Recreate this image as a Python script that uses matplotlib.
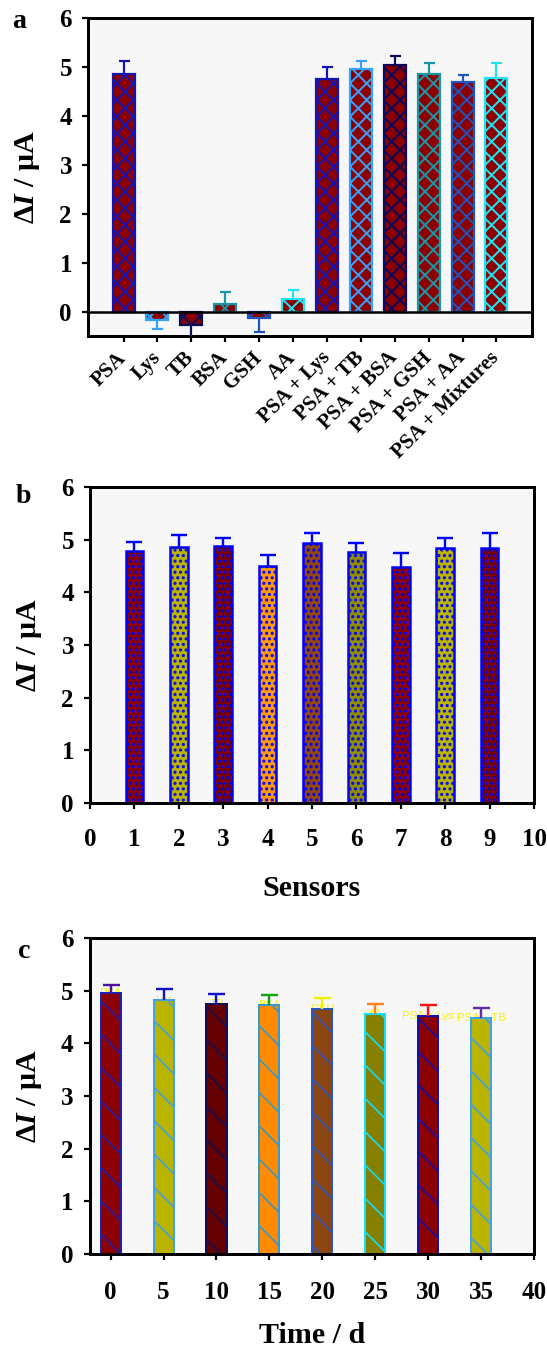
import matplotlib
matplotlib.use('Agg')
import matplotlib.pyplot as plt
import numpy as np

# ---------------- data ----------------
a_categories = ['PSA', 'Lys', 'TB', 'BSA', 'GSH', 'AA', 'PSA + Lys', 'PSA + TB',
                'PSA + BSA', 'PSA + GSH', 'PSA + AA', 'PSA + Mixtures']
a_values = [4.86, -0.18, -0.27, 0.16, -0.14, 0.26, 4.75, 4.95, 5.03, 4.86, 4.69, 4.78]
a_errors = [0.26, 0.18, 0.30, 0.24, 0.28, 0.19, 0.25, 0.17, 0.19, 0.21, 0.15, 0.31]

b_sensors = [1, 2, 3, 4, 5, 6, 7, 8, 9]
b_values = [4.78, 4.86, 4.88, 4.50, 4.93, 4.77, 4.49, 4.84, 4.84]
b_errors = [0.17, 0.23, 0.16, 0.21, 0.19, 0.16, 0.25, 0.20, 0.28]

c_days = [0, 5, 10, 15, 20, 25, 30, 35]
c_values = [4.96, 4.83, 4.75, 4.72, 4.66, 4.56, 4.51, 4.48]
c_errors = [0.15, 0.20, 0.19, 0.20, 0.21, 0.18, 0.22, 0.19]
c_labels = ['PSA', 'Lys', 'TB', 'BSA', 'GSH', 'AA', 'PSA + Lys', 'PSA + TB']

y_ticks = [0, 1, 2, 3, 4, 5, 6]
b_xticks = [0, 1, 2, 3, 4, 5, 6, 7, 8, 9, 10]
c_xticks = [0, 5, 10, 15, 20, 25, 30, 35, 40]

# ---------------- styles ----------------
a_fill = '#8b0000'
a_edges = ['#1414b4', '#36a2ff', '#0a0a5a', '#1a95a5', '#1c55c0', '#1ee4f4',
           '#1414b4', '#36a2ff', '#0a0a5a', '#1a95a5', '#1c55c0', '#1ee4f4']
b_fills = ['#8b0000', '#b8b400', '#7a0000', '#ff9a10', '#93460d', '#8f8c00',
           '#8b0000', '#b8b400', '#7a0000']
b_edge = '#0000ff'
c_fills = ['#8b0000', '#b8b400', '#640000', '#ff8c00', '#8b4513', '#868000',
           '#8b0000', '#b8b400']
c_edges = ['#2020b0', '#40a0e8', '#10105a', '#3898c8', '#2858c0', '#10e0ff',
           '#1010b0', '#40a0e8']
c_errcolors = ['#5010a0', '#1010c8', '#1010d0', '#10a010', '#f0f000', '#ff8020',
               '#ff1010', '#6030a0']

DPI = 200
W, H = 547, 1352


def px(v):
    return v * 72.0 / DPI


plt.rcParams['font.family'] = ['Liberation Serif', 'DejaVu Serif']
plt.rcParams['font.weight'] = 'bold'
plt.rcParams['axes.labelweight'] = 'bold'
plt.rcParams['mathtext.fontset'] = 'custom'
plt.rcParams['mathtext.rm'] = 'Liberation Serif:bold'
plt.rcParams['mathtext.bf'] = 'Liberation Serif:bold'
plt.rcParams['mathtext.it'] = 'Liberation Serif:italic:bold'
plt.rcParams['hatch.linewidth'] = px(2.0)

fig = plt.figure(figsize=(W / DPI, H / DPI), dpi=DPI)
fig.patch.set_facecolor('white')


def axes_box(l, t, r, b):
    return fig.add_axes([l / W, 1 - b / H, (r - l) / W, (b - t) / H])


def style(ax, xpad):
    ax.set_facecolor('#f7f7f7')
    for s in ax.spines.values():
        s.set_linewidth(px(3))
    ax.tick_params(axis='both', direction='out', length=px(6), width=px(2.2),
                   labelsize=px(25), top=False, right=False)
    ax.tick_params(axis='y', pad=px(10))
    ax.tick_params(axis='x', pad=xpad)
    ax.set_yticks(y_ticks)


def set_hlw(bars, w):
    for p in bars:
        if hasattr(p, 'set_hatch_linewidth'):
            p.set_hatch_linewidth(w)


def draw_err(ax, x, v, e, color, capsize, lw):
    if v >= 0:
        yerr = [[0], [e]]
    else:
        yerr = [[e], [0]]
    _, caps, _ = ax.errorbar([x], [v], yerr=yerr, fmt='none', ecolor=color,
                             elinewidth=lw, capsize=capsize, capthick=lw,
                             zorder=4)
    if len(caps) == 2:
        if v >= 0:
            caps[0].set_visible(False)
        else:
            caps[1].set_visible(False)


ylabel = 'Δ$\\mathit{I}$ / μA'

# ---------------- panel a ----------------
axA = axes_box(88, 18, 532, 336)
style(axA, px(13))
xa = np.arange(len(a_categories))
with plt.rc_context({'hatch.linewidth': px(2.0)}):
    barsA = axA.bar(xa, a_values, 0.65, color=a_fill, edgecolor=a_edges,
                    linewidth=px(2.2), hatch='xxxx', zorder=2)
set_hlw(barsA, px(2.0))
for x, v, e, c in zip(xa, a_values, a_errors, a_edges):
    draw_err(axA, x, v, e, c, px(5.5), px(2.2))
axA.axhline(0, color='black', lw=px(2.5), zorder=3)
axA.set_xlim(-1.05, 12.05)
axA.set_ylim(-0.5, 6)
axA.set_xticks(xa)
axA.set_xticklabels(a_categories, rotation=45, ha='right', va='center',
                    rotation_mode='anchor', fontsize=px(21))
axA.set_ylabel(ylabel, fontsize=px(30), labelpad=px(17))

# ---------------- panel b ----------------
axB = axes_box(90, 487, 534, 803)
style(axB, px(19))
with plt.rc_context({'hatch.linewidth': px(2.0)}):
    barsB = axB.bar(b_sensors, b_values, 0.4, color=b_fills, edgecolor=b_edge,
                    linewidth=px(2.5), hatch='.' * 6, zorder=2)
set_hlw(barsB, px(2.0))
for x, v, e in zip(b_sensors, b_values, b_errors):
    draw_err(axB, x, v, e, b_edge, px(8), px(2.4))
axB.set_xlim(0, 10)
axB.set_ylim(0, 6)
axB.set_xticks(b_xticks)
axB.set_ylabel(ylabel, fontsize=px(30), labelpad=px(17))
axB.set_xlabel('Sensors', fontsize=px(30), labelpad=px(24))

# ---------------- panel c ----------------
axC = axes_box(89.5, 938, 534, 1254)
style(axC, px(21))
with plt.rc_context({'hatch.linewidth': px(1.6)}):
    barsC = axC.bar(c_days, c_values, 1.9, color=c_fills, edgecolor=c_edges,
                    linewidth=px(2.0), hatch='\\\\', zorder=2)
set_hlw(barsC, px(1.6))
for x, v, e, c in zip(c_days, c_values, c_errors, c_errcolors):
    draw_err(axC, x, v, e, c, px(8.5), px(2.4))
for x, v, t in zip(c_days, c_values, c_labels):
    axC.text(x, v, t, ha='center', va='center', color='#f5f500',
             fontsize=px(11.3), family=['Liberation Sans', 'DejaVu Sans'],
             fontweight='normal', zorder=1.5)
axC.set_xlim(-2, 40)
axC.set_ylim(0, 6)
axC.set_xticks(c_xticks)
axC.set_ylabel(ylabel, fontsize=px(30), labelpad=px(17))
axC.set_xlabel('Time / d', fontsize=px(30), labelpad=px(18))

# ---------------- panel letters ----------------
for letter, x, y in [('a', 19, 28), ('b', 23, 503), ('c', 24, 958)]:
    fig.text(x / W, 1 - y / H, letter, ha='center', va='baseline',
             fontsize=px(28), fontweight='bold')

fig.savefig('out.png', dpi=DPI)
